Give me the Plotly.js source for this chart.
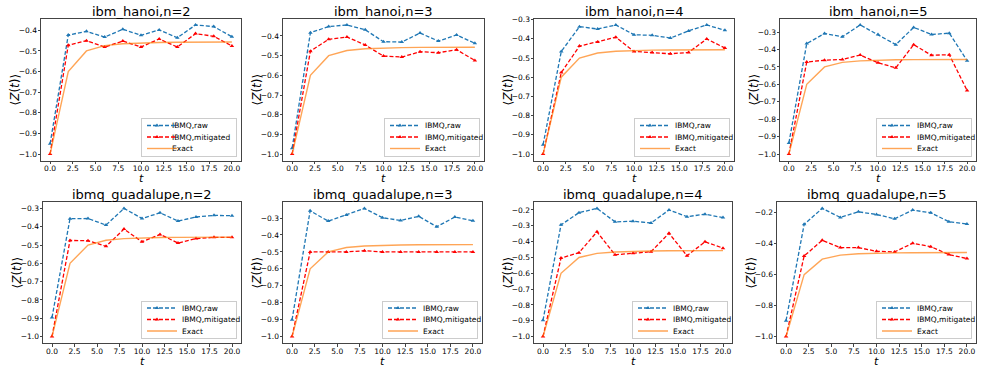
<!DOCTYPE html>
<html>
<head>
<meta charset="utf-8">
<script src="https://cdn.plot.ly/plotly-3.0.1.min.js"></script>
<style>
  html, body { margin: 0; padding: 0; background: #fff; }
  #chart { width: 987px; height: 373px; }
</style>
</head>
<body>
<div id="chart"></div>
<script>
// time steps and exact curve (same in every panel)
const t = [0, 2, 4, 6, 8, 10, 12, 14, 16, 18, 20];
const exact = [-1.0, -0.6, -0.5, -0.474, -0.465, -0.461, -0.459, -0.458, -0.457, -0.457, -0.457];

// ibm_hanoi
const hanoi2Raw = [-0.95, -0.423, -0.405, -0.433, -0.395, -0.424, -0.398, -0.436, -0.374, -0.382, -0.431];
const hanoi2Mit = [-1.0, -0.472, -0.450, -0.481, -0.452, -0.481, -0.442, -0.481, -0.416, -0.429, -0.476];
const hanoi3Raw = [-0.97, -0.383, -0.352, -0.344, -0.369, -0.429, -0.431, -0.385, -0.426, -0.395, -0.437];
const hanoi3Mit = [-1.0, -0.477, -0.417, -0.405, -0.446, -0.502, -0.507, -0.480, -0.485, -0.470, -0.524];
const hanoi4Raw = [-0.951, -0.466, -0.337, -0.349, -0.328, -0.379, -0.382, -0.396, -0.359, -0.328, -0.356];
const hanoi4Mit = [-1.0, -0.576, -0.438, -0.417, -0.392, -0.466, -0.471, -0.478, -0.471, -0.401, -0.448];
const hanoi5Raw = [-0.936, -0.366, -0.308, -0.327, -0.259, -0.314, -0.372, -0.273, -0.314, -0.306, -0.464];
const hanoi5Mit = [-1.0, -0.472, -0.461, -0.457, -0.432, -0.476, -0.505, -0.372, -0.433, -0.430, -0.635];

// ibmq_guadalupe
const guad2Raw = [-0.896, -0.356, -0.355, -0.391, -0.300, -0.355, -0.324, -0.369, -0.347, -0.338, -0.340];
const guad2Mit = [-1.0, -0.475, -0.476, -0.507, -0.413, -0.482, -0.442, -0.489, -0.465, -0.458, -0.458];
const guad3Raw = [-0.901, -0.257, -0.318, -0.282, -0.243, -0.298, -0.314, -0.290, -0.351, -0.294, -0.316];
const guad3Mit = [-1.0, -0.500, -0.500, -0.500, -0.493, -0.500, -0.500, -0.500, -0.500, -0.500, -0.500];
const guad4Raw = [-0.897, -0.294, -0.217, -0.190, -0.275, -0.271, -0.282, -0.200, -0.242, -0.227, -0.248];
const guad4Mit = [-1.0, -0.504, -0.470, -0.338, -0.483, -0.474, -0.464, -0.347, -0.489, -0.401, -0.441];
const guad5Raw = [-0.897, -0.275, -0.172, -0.230, -0.194, -0.211, -0.239, -0.183, -0.200, -0.258, -0.273];
const guad5Mit = [-1.0, -0.479, -0.378, -0.425, -0.425, -0.449, -0.453, -0.397, -0.419, -0.470, -0.496];

const titles = ['ibm_hanoi,n=2', 'ibm_hanoi,n=3', 'ibm_hanoi,n=4', 'ibm_hanoi,n=5',
                'ibmq_guadalupe,n=2', 'ibmq_guadalupe,n=3', 'ibmq_guadalupe,n=4', 'ibmq_guadalupe,n=5'];
const rawSets = [hanoi2Raw, hanoi3Raw, hanoi4Raw, hanoi5Raw, guad2Raw, guad3Raw, guad4Raw, guad5Raw];
const mitSets = [hanoi2Mit, hanoi3Mit, hanoi4Mit, hanoi5Mit, guad2Mit, guad3Mit, guad4Mit, guad5Mit];
const yStep = [0.1, 0.1, 0.1, 0.1, 0.1, 0.1, 0.1, 0.2];

// panel boxes in pixels [left, right, top, bottom]
const W = 987, H = 373;
const boxes = [
  [41, 241, 18.5, 160.5], [283, 484, 18.5, 160.5], [534, 734, 18.5, 160.5], [780, 976, 18.5, 160.5],
  [43, 241, 202, 343], [283, 482, 202, 343], [534, 732, 202, 343], [777, 976, 202, 343]
];

const FONT = 'DejaVu Sans';
const traces = [];
const annotations = [];
const layout = {
  width: W, height: H,
  margin: { l: 0, r: 0, t: 0, b: 0 },
  paper_bgcolor: '#fff', plot_bgcolor: '#fff',
  font: { family: FONT, color: '#000', size: 7.5 },
  showlegend: true
};

titles.forEach((title, i) => {
  const k = i + 1;
  const sx = k === 1 ? '' : String(k);
  const xa = 'x' + sx, ya = 'y' + sx;
  const lg = k === 1 ? 'legend' : 'legend' + k;
  const [l, r, tp, bt] = boxes[i];

  traces.push({
    x: t, y: rawSets[i], xaxis: xa, yaxis: ya, legend: lg,
    mode: 'lines+markers', name: 'IBMQ,raw',
    line: { color: '#1f77b4', width: 1.3, dash: '4px,2px' },
    marker: { symbol: 'triangle-up', size: 4, color: '#1f77b4' }
  });
  traces.push({
    x: t, y: mitSets[i], xaxis: xa, yaxis: ya, legend: lg,
    mode: 'lines+markers', name: 'IBMQ,mitigated',
    line: { color: '#ff0000', width: 1.3, dash: '4px,2px' },
    marker: { symbol: 'triangle-up', size: 4, color: '#ff0000' }
  });
  traces.push({
    x: t, y: exact, xaxis: xa, yaxis: ya, legend: lg,
    mode: 'lines', name: 'Exact',
    line: { color: 'rgba(255,127,14,0.7)', width: 1.4 }
  });

  const all = rawSets[i].concat(mitSets[i], exact);
  const lo = Math.min(...all), hi = Math.max(...all);
  const pad = 0.05 * (hi - lo);

  layout['xaxis' + sx] = {
    domain: [l / W, r / W], anchor: ya, range: [-1, 21],
    tick0: 0, dtick: 2.5, tickformat: '.1f',
    ticks: 'outside', ticklen: 2.5, tickcolor: '#444', tickfont: { size: 7.5 },
    ticklabelstandoff: -2,
    showline: true, mirror: true, linecolor: '#444', linewidth: 1,
    showgrid: false, zeroline: false
  };
  layout['yaxis' + sx] = {
    domain: [1 - bt / H, 1 - tp / H], anchor: xa, range: [lo - pad, hi + pad],
    tick0: -1, dtick: yStep[i], tickformat: '.1f',
    ticks: 'outside', ticklen: 2.5, tickcolor: '#444', tickfont: { size: 7.5 },
    ticklabelstandoff: -1,
    showline: true, mirror: true, linecolor: '#444', linewidth: 1,
    showgrid: false, zeroline: false
  };
  layout[lg] = {
    x: (r - 4) / W, y: 1 - (bt - 4) / H, xanchor: 'right', yanchor: 'bottom',
    bgcolor: 'rgba(255,255,255,0.8)', bordercolor: '#cccccc', borderwidth: 1,
    font: { size: 7.5 }, itemwidth: 30, tracegroupgap: 0
  };

  // panel title
  annotations.push({
    text: title, xref: 'paper', yref: 'paper',
    x: (l + r) / 2 / W, y: 1 - tp / H, xanchor: 'center', yanchor: 'bottom',
    yshift: -1, borderpad: 0, showarrow: false, font: { size: 13, family: FONT, color: '#000' }
  });
  // x axis title
  annotations.push({
    text: '<i>t</i>', xref: 'paper', yref: 'paper',
    x: (l + r) / 2 / W, y: 1 - bt / H, xanchor: 'center', yanchor: 'top',
    yshift: -11, borderpad: 0, showarrow: false, font: { size: 11, family: FONT, color: '#000' }
  });
  // y axis title
  annotations.push({
    text: '⟨<i>Z</i>(<i>t</i>)⟩', xref: 'paper', yref: 'paper', textangle: -90,
    x: l / W, y: 1 - (tp + bt) / 2 / H, xanchor: 'center', yanchor: 'middle',
    xshift: -27, borderpad: 0, showarrow: false, font: { size: 12, family: FONT, color: '#000' }
  });
});

layout.annotations = annotations;

function getXY(el) {
  const m = /translate\(\s*([-\d.e]+)[\s,]+([-\d.e]+)\s*\)/.exec(el.getAttribute('transform') || '');
  return m ? [parseFloat(m[1]), parseFloat(m[2])] : null;
}

// matplotlib style legends are much tighter than plotly's, squeeze them a bit
function squeezeLegends(gd) {
  const legs = Array.from(gd.querySelectorAll('g.infolayer > g'))
    .filter(g => /^legend\d*$/.test(g.getAttribute('class') || ''));
  legs.forEach(leg => {
    const bg = leg.querySelector('rect.bg');
    const pos = getXY(leg);
    const items = leg.querySelectorAll('g.traces');
    if (!bg || !pos || items.length === 0) return;
    const oldH = parseFloat(bg.getAttribute('height'));
    const oldW = parseFloat(bg.getAttribute('width'));
    const step = 11.5, first = 7.5, cut = 10;
    items.forEach((it, j) => {
      const p = getXY(it);
      if (!p) return;
      it.setAttribute('transform', `translate(${p[0]},${first + j * step})`);
      it.querySelectorAll('g.legendpoints path').forEach(pt => {
        const d = pt.getAttribute('d') || '';
        if (d.indexOf('h30') >= 0) pt.setAttribute('d', d.replace('h30', 'h20'));
        const tp = getXY(pt);
        if (tp && Math.abs(tp[0] - 20) < 0.01) pt.setAttribute('transform', `translate(15,${tp[1]})`);
      });
      const txt = it.querySelector('text.legendtext');
      if (txt) {
        [txt, ...txt.querySelectorAll('tspan')].forEach(n => {
          if (n.hasAttribute('x')) n.setAttribute('x', parseFloat(n.getAttribute('x')) - cut);
        });
      }
    });
    const newH = first + (items.length - 1) * step + 7;
    bg.setAttribute('height', newH);
    bg.setAttribute('width', oldW - cut);
    leg.setAttribute('transform', `translate(${pos[0] + cut},${pos[1] + oldH - newH})`);
  });
}

const gd = document.getElementById('chart');
Plotly.newPlot(gd, traces, layout, { displayModeBar: false, staticPlot: true })
  .then(() => squeezeLegends(gd));
</script>
</body>
</html>
